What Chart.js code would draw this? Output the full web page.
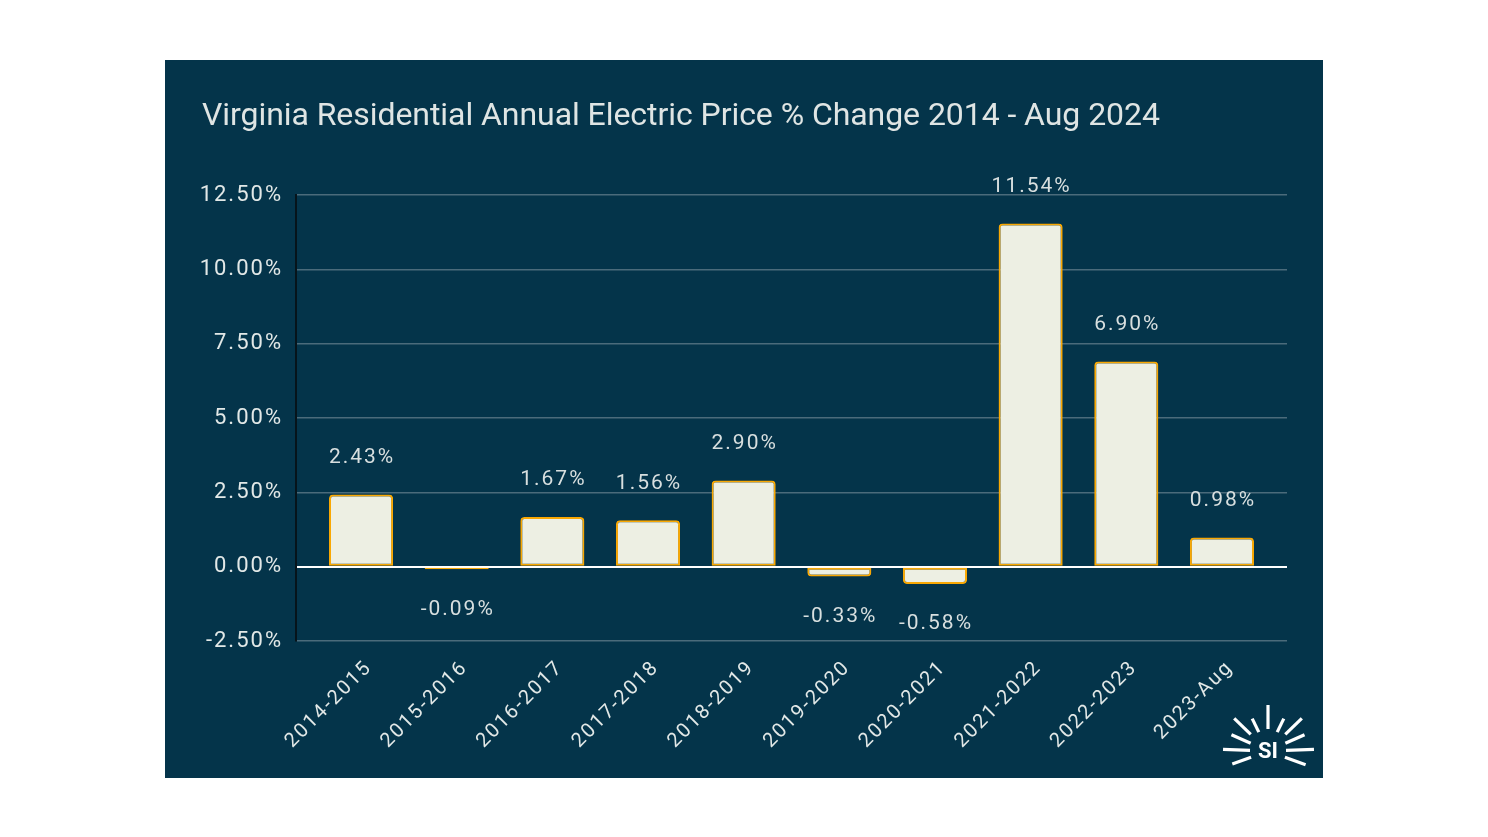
<!DOCTYPE html>
<html>
<head>
<meta charset="utf-8">
<script src="https://cdn.jsdelivr.net/npm/chart.js@4.4.1/dist/chart.umd.min.js"></script>
<style>
  html, body { margin: 0; padding: 0; background: #ffffff; }
  #panel {
    position: absolute;
    left: 165px; top: 60px;
    width: 1158px; height: 718px;
    background: #04344a;
  }
  #title {
    position: absolute;
    left: 37px; top: 38px;
    font: 32px/32px Roboto, sans-serif;
    letter-spacing: -0.06px;
    color: #dfe5e4;
    white-space: nowrap;
  }
  #logo { position: absolute; left: 1210px; top: 696px; }
</style>
</head>
<body>
<div id="panel">
  <canvas id="chart"></canvas>
  <div id="title">Virginia Residential Annual Electric Price % Change 2014 - Aug 2024</div>
</div>
<svg id="logo" width="116" height="78" viewBox="1210 696 116 78">
  <g stroke="#ffffff" stroke-width="3.2" id="rays"></g>
  <text x="1268" y="758" fill="#ffffff" font-family="Roboto" font-weight="bold" font-size="22" text-anchor="middle">SI</text>
</svg>
<script>
const labels = ["2014-2015", "2015-2016", "2016-2017", "2017-2018", "2018-2019",
  "2019-2020", "2020-2021", "2021-2022", "2022-2023", "2023-Aug"];
const changes = [2.43, -0.09, 1.67, 1.56, 2.90, -0.33, -0.58, 11.54, 6.90, 0.98];
const yTicks = [-2.5, 0, 2.5, 5, 7.5, 10, 12.5];

const textColor = "#e2e8e7";
const fontFamily = "Roboto";

// logo rays: angle, inner radius, outer radius
const rayList = [
  [90, 22, 46], [116, 21, 36], [64, 21, 36], [136, 24, 47], [44, 24, 47],
  [156, 19, 40], [24, 19, 40], [178, 18, 45], [2, 18, 46], [200, 18, 38], [-20, 18, 40],
];
const rays = document.getElementById("rays");
rayList.forEach(([a, r1, r2]) => {
  const r = a * Math.PI / 180;
  const cx = 1268, cy = 751;
  const l = document.createElementNS("http://www.w3.org/2000/svg", "line");
  l.setAttribute("x1", cx + r1 * Math.cos(r));
  l.setAttribute("y1", cy - r1 * Math.sin(r));
  l.setAttribute("x2", cx + r2 * Math.cos(r));
  l.setAttribute("y2", cy - r2 * Math.sin(r));
  rays.appendChild(l);
});

// wider letter spacing like the original
const spacing = {
  id: "spacing",
  beforeUpdate(chart) { chart.ctx.letterSpacing = "2px"; },
  beforeLayout(chart) { chart.ctx.letterSpacing = "2px"; },
  beforeDraw(chart) { chart.ctx.letterSpacing = "2px"; },
};

const valueLabels = {
  id: "valueLabels",
  afterDatasetsDraw(chart) {
    const ctx = chart.ctx;
    const meta = chart.getDatasetMeta(0);
    ctx.save();
    ctx.letterSpacing = "2px";
    ctx.font = "21px " + fontFamily;
    ctx.fillStyle = "#d8dfdf";
    ctx.textAlign = "center";
    ctx.textBaseline = "middle";
    meta.data.forEach((bar, i) => {
      const v = changes[i];
      const y = v >= 0 ? bar.y - 37 : bar.y + 40;
      ctx.fillText(v.toFixed(2) + "%", bar.x + 1, y);
    });
    ctx.restore();
  }
};

const config = {
  type: "bar",
  data: {
    datasets: [
      {
        data: changes.map((v, i) => ({ x: i, y: v })),
        backgroundColor: "#edefe3",
        borderColor: "#f9a804",
        borderWidth: 2,
        borderRadius: (c) => (changes[c.dataIndex] >= 0
          ? { topLeft: 4, topRight: 4, bottomLeft: 0, bottomRight: 0 }
          : { topLeft: 0, topRight: 0, bottomLeft: 4, bottomRight: 4 }),
        borderSkipped: false,
        barPercentage: 0.67,
        categoryPercentage: 1,
      },
    ],
  },
  options: {
    responsive: true,
    maintainAspectRatio: false,
    animation: false,
    layout: { padding: { left: 0, right: 36, top: 135, bottom: 0 } },
    plugins: {
      legend: { display: false },
      tooltip: { enabled: false },
      title: { display: false },
    },
    scales: {
      x: {
        type: "linear",
        offset: false,
        min: -0.68,
        max: 9.68,
        afterBuildTicks(scale) { scale.ticks = labels.map((_, i) => ({ value: i })); },
        grid: { display: false },
        border: { display: false },
        ticks: {
          color: textColor,
          font: { family: fontFamily, size: 20 },
          autoSkip: false,
          minRotation: 45,
          maxRotation: 45,
          labelOffset: 8,
          padding: 7,
          callback: (v) => labels[v],
        },
        afterFit(scale) { scale.height = 137; },
      },
      y: {
        min: -2.5,
        max: 12.5,
        afterBuildTicks(scale) { scale.ticks = yTicks.map((v) => ({ value: v })); },
        grid: {
          drawTicks: false,
          color: (c) => (c.tick && c.tick.value === 0 ? "#ffffff" : "#4b6b7b"),
          lineWidth: (c) => (c.tick && c.tick.value === 0 ? 2 : 1.5),
        },
        border: { color: "#06141b", width: 2 },
        ticks: {
          color: textColor,
          font: { family: fontFamily, size: 22 },
          padding: 13,
          callback: (v) => v.toFixed(2) + "%",
        },
        afterFit(scale) { scale.width = 131; },
      },
    },
  },
  plugins: [spacing, valueLabels],
};

window.onload = function () {
  const ctx = document.getElementById("chart").getContext("2d");
  window.chart = new Chart(ctx, config);
};
</script>
</body>
</html>
